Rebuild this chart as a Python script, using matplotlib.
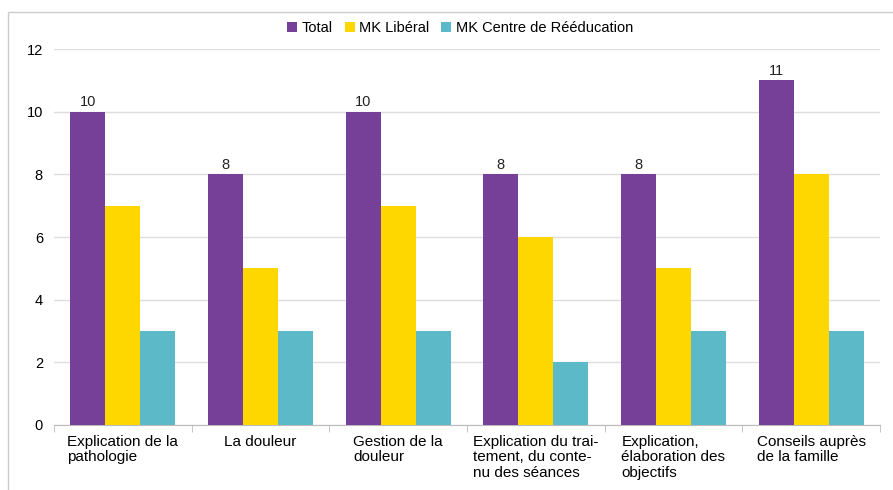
import matplotlib.pyplot as plt
import numpy as np
from matplotlib.patches import Rectangle

plt.rcParams['font.family'] = ['Liberation Sans', 'DejaVu Sans']

categories = ["Explication de la\npathologie", "La douleur", "Gestion de la\ndouleur",
              "Explication du trai-\ntement, du conte-\nnu des séances",
              "Explication,\nélaboration des\nobjectifs", "Conseils auprès\nde la famille"]
total = [10, 8, 10, 8, 8, 11]
liberal = [7, 5, 7, 6, 5, 8]
centre = [3, 3, 3, 2, 3, 3]
series_names = ["Total", "MK Libéral", "MK Centre de Rééducation"]
colors = ["#763F98", "#FFD700", "#5BB9C8"]

fig = plt.figure(figsize=(8.93, 4.9), dpi=100)
ax = fig.add_axes([54/893, 1-425/490, (880-54)/893, (425-49)/490])

x = np.arange(len(categories))
w = 0.254
bars = []
for i, (vals, name, c) in enumerate(zip([total, liberal, centre], series_names, colors)):
    b = ax.bar(x + (i-1)*w, vals, w, color=c, label=name, zorder=3)
    bars.append(b)
ax.bar_label(bars[0], fontsize=10.5, padding=2, color='#222222')

ax.set_xlim(-0.5, len(categories)-0.5)
ax.set_ylim(0, 12)
ax.set_yticks(range(0, 13, 2))
ax.yaxis.grid(True, color='#DDDDDD', linewidth=1, zorder=0)
ax.set_xticks(x)
ax.set_xticklabels(categories, fontsize=11, multialignment='left', va='top',
                   linespacing=1.15)
ax.tick_params(axis='x', length=0, pad=7)
ax.set_xticks(np.arange(-0.5, len(categories)), minor=True)
ax.tick_params(axis='x', which='minor', length=5, color='#BBBBBB')
ax.tick_params(axis='y', length=0, labelsize=10.5, pad=8)
for s in ['top', 'right', 'left']:
    ax.spines[s].set_visible(False)
ax.spines['bottom'].set_color('#BBBBBB')

fig.legend(loc='center', bbox_to_anchor=(460/893, 1-28/490), ncol=3, frameon=False,
           fontsize=10.5, handlelength=0.7, handleheight=0.7, handletextpad=0.3,
           columnspacing=0.8)

fig.patches.append(Rectangle((8/893, -0.1), 1.0, 1-12/490+0.1, transform=fig.transFigure,
                             fill=False, edgecolor='#CCCCCC', linewidth=1))

fig.savefig("out.png", dpi=100)
